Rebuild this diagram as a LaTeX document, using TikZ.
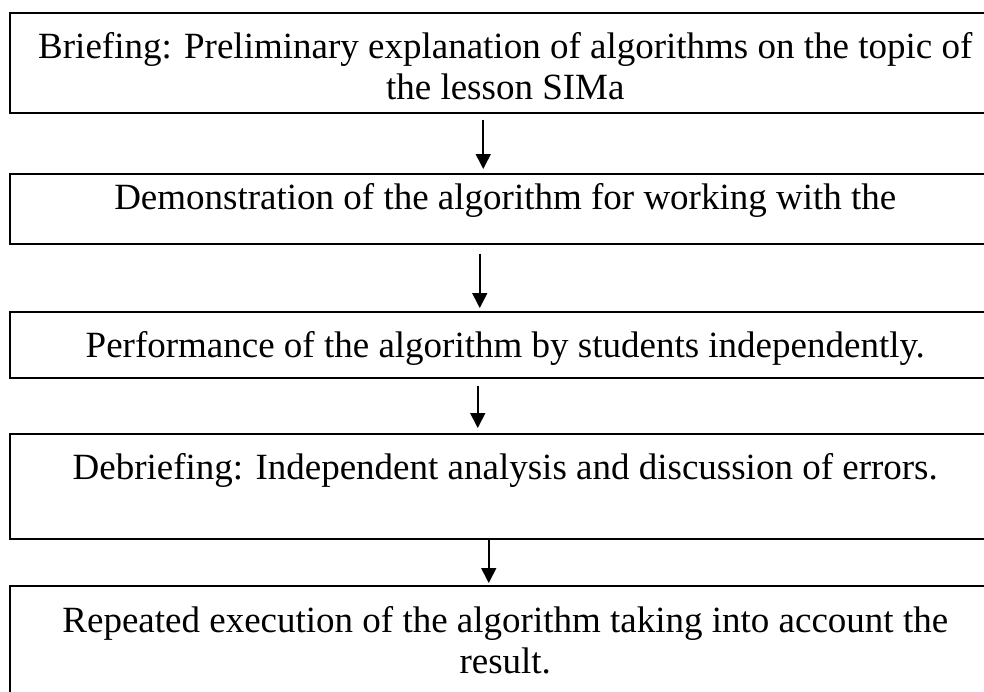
\documentclass[tikz,border=0pt]{standalone}
\usepackage{fontspec}
\setmainfont{Liberation Serif}
\usetikzlibrary{arrows.meta,positioning}
\def\boxwidth{991}
\def\boxleft{9}
\tikzset{
  stepbox/.style={
    draw=black,line width=1.5pt,
    inner sep=0pt,minimum width=\boxwidth pt,
    anchor=north west,align=center,
    font=\fontsize{37}{41}\selectfont
},
  flow/.style={-{Triangle[length=15pt,width=15pt]},line width=1.6pt}
}

\begin{document}
\begin{tikzpicture}[x=1pt,y=-1pt]
\useasboundingbox (0,0) rectangle (984,691);
\node[stepbox,minimum height=100pt] (brief) at (\boxleft,12)
    {\rule{0pt}{40pt}Briefing: Preliminary explanation of algorithms on the topic of\\ the lesson SIMa\rule[-7pt]{0pt}{7pt}};
\node[stepbox,minimum height=70pt,text height=20pt,text depth=18pt] (demo) at (\boxleft,173)
    {Demonstration of the algorithm for working with the};
\node[stepbox,minimum height=66pt,text height=30pt,text depth=4pt] (perf) at (\boxleft,311)
    {Performance of the algorithm by students independently.};
\node[stepbox,minimum height=105pt,text height=20pt,text depth=33pt] (debrief) at (\boxleft,433)
    {Debriefing: Independent analysis and discussion of errors.};
\node[stepbox,minimum height=115pt] (repeat) at (\boxleft,585)
    {\rule{0pt}{30pt}Repeated execution of the algorithm taking into account the\\ result.\rule[-10pt]{0pt}{10pt}};
% arrows sit a bit left of the box centres
\foreach \a/\b/\dx/\ga/\gb in {brief/demo/-22/6/4,demo/perf/-25.5/9/3,perf/debrief/-27.5/7/5,debrief/repeat/-16.5/0/2}{
    \draw[flow] ([xshift=\dx pt,yshift=-\ga pt]\a.south) -- ([xshift=\dx pt,yshift=\gb pt]\b.north);
}
\end{tikzpicture}
\end{document}
